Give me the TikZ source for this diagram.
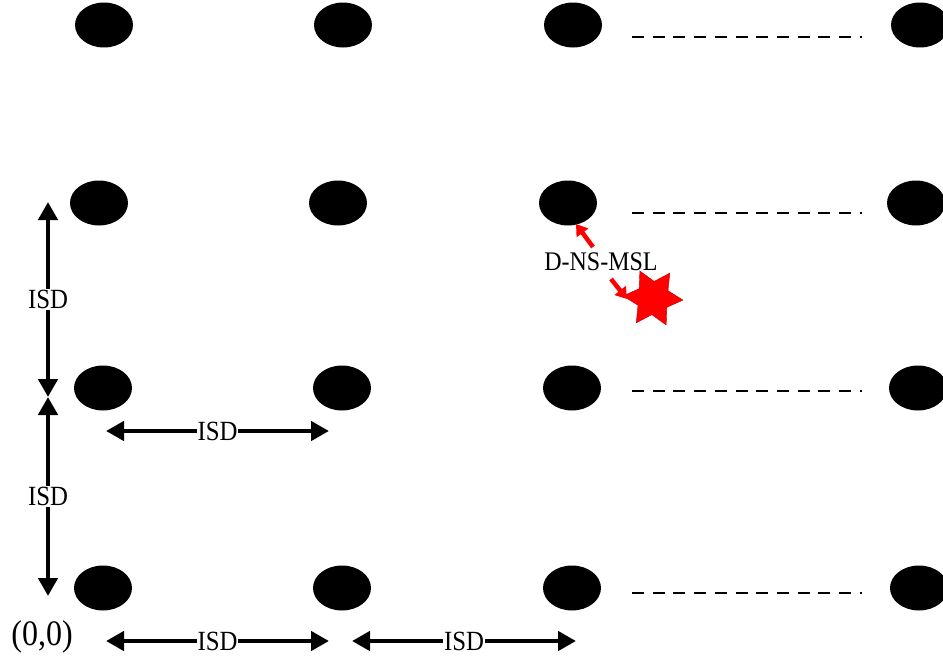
\documentclass[tikz,border=0pt]{standalone}
\usepackage{fontspec}
\setmainfont{Liberation Serif}
\usetikzlibrary{arrows.meta,shapes.geometric}
\newcommand{\tallt}[1]{\scalebox{1}[1.12]{#1}}
\begin{document}
\begin{tikzpicture}[x=1pt,y=-1pt,
 bs/.style={ellipse, fill=black, minimum width=58pt, minimum height=45pt, inner sep=0pt},
 dl/.style={dash pattern=on 12pt off 8.7pt, line width=1.3pt},
 isd/.style={line width=4.5pt, {Triangle[length=18pt,width=19pt]}-{Triangle[length=18pt,width=19pt]}},
 lbl/.style={font=\fontsize{24.8}{28}\selectfont, fill=white, inner sep=1pt},
 redarr/.style={red, line width=4.5pt, -{Triangle[length=11pt,width=14pt]}}
]
\useasboundingbox (0,0) rectangle (943,662);
% row 1
\node[bs] (a1) at (104,25) {};
\node[bs] (a2) at (343,25) {};
\node[bs] (a3) at (573,25) {};
\node[bs] (a4) at (920,25) {};
% row 2
\node[bs] (b1) at (99,203) {};
\node[bs] (b2) at (338,203) {};
\node[bs] (b3) at (568,203) {};
\node[bs] (b4) at (916,203) {};
% row 3
\node[bs] (c1) at (103,388) {};
\node[bs] (c2) at (342,388) {};
\node[bs] (c3) at (572,388) {};
\node[bs] (c4) at (918,388) {};
% row 4
\node[bs] (d1) at (103,588) {};
\node[bs] (d2) at (342,588) {};
\node[bs] (d3) at (572,588) {};
\node[bs] (d4) at (919,588) {};
% dashed lines
\coordinate (ad1) at (632,37); \coordinate (ad2) at (862,37);
\coordinate (bd1) at (632,213); \coordinate (bd2) at (862,213);
\coordinate (cd1) at (632,391); \coordinate (cd2) at (862,391);
\coordinate (dd1) at (632,593); \coordinate (dd2) at (862,593);
\draw[dl] (ad1) -- (ad2);
\draw[dl] (bd1) -- (bd2);
\draw[dl] (cd1) -- (cd2);
\draw[dl] (dd1) -- (dd2);
% vertical ISD arrows
\coordinate (v1) at (48,202); \coordinate (v2) at (48,397);
\coordinate (v3) at (48,397); \coordinate (v4) at (48,596);
\draw[isd] (v1) -- node[lbl] {\tallt{ISD}} (v2);
\draw[isd] (v3) -- node[lbl] {\tallt{ISD}} (v4);
% horizontal ISD arrows
\coordinate (h1) at (106,431); \coordinate (h2) at (329,431);
\draw[isd] (h1) -- node[lbl] {\tallt{ISD}} (h2);
\coordinate (g1) at (106,641); \coordinate (g2) at (329,641);
\coordinate (g3) at (352,641); \coordinate (g4) at (576,641);
\draw[isd] (g1) -- node[lbl] {\tallt{ISD}} (g2);
\draw[isd] (g3) -- node[lbl] {\tallt{ISD}} (g4);
% origin
\node[font=\fontsize{32}{36}\selectfont, inner sep=0pt] (orig) at (42,637) {\tallt{(0,0)}};
% D-NS-MSL
\node[font=\fontsize{24}{28}\selectfont, inner sep=1pt] (dns) at (601,262) {\tallt{D-NS-MSL}};
\node[star, star points=6, star point ratio=1.8, minimum size=60pt, inner sep=0pt, fill=red, draw=red!75!black, line width=0.4pt, rotate=-34] (ms) at (653,298) {};
\coordinate (r1s) at (593,247); \coordinate (r1e) at (576,224);
\coordinate (r2s) at (611,279); \coordinate (r2e) at (627,299);
\draw[redarr] (r1s) -- (r1e);
\draw[redarr] (r2s) -- (r2e);
\end{tikzpicture}
\end{document}
